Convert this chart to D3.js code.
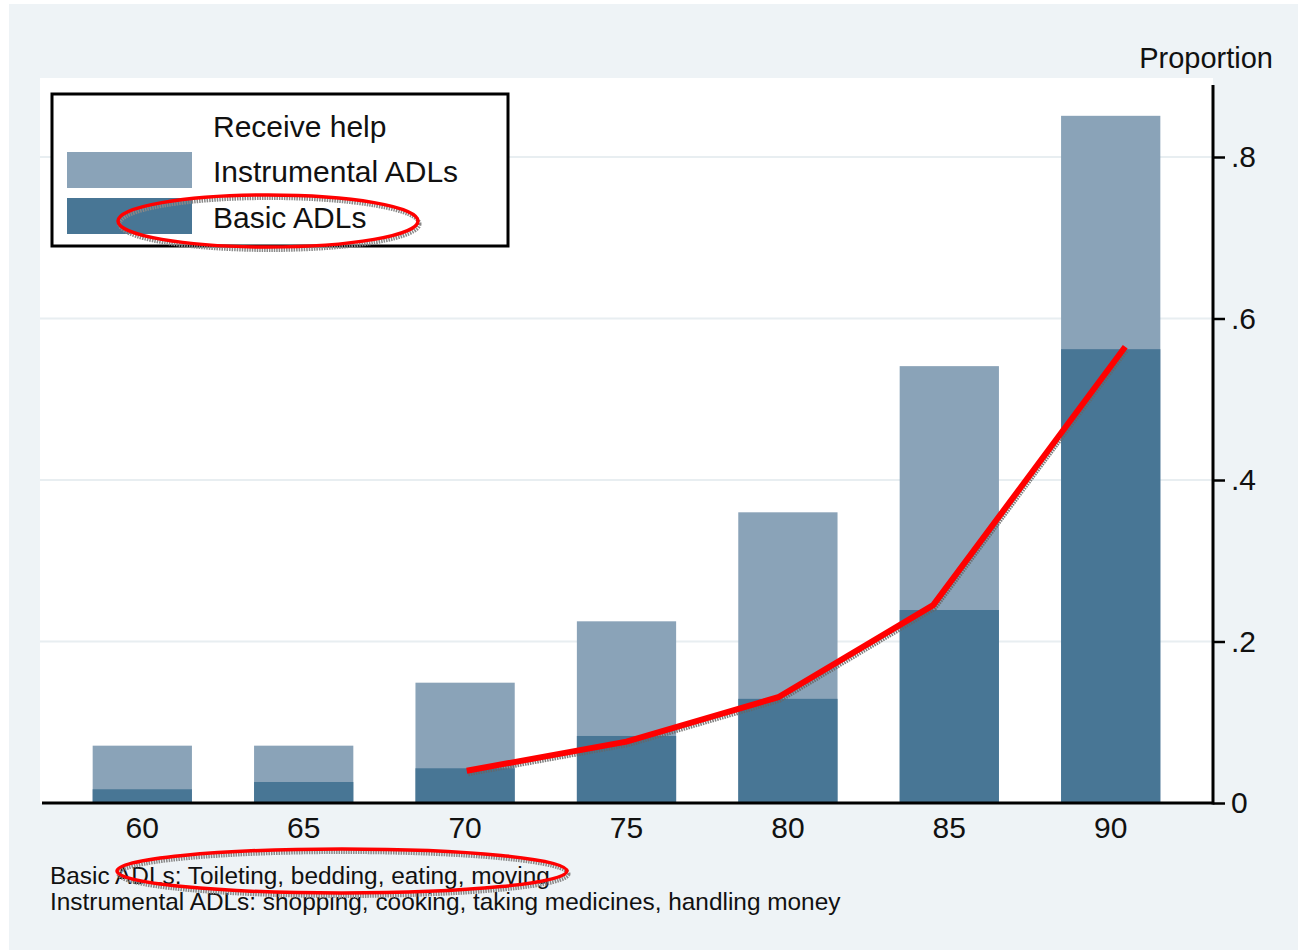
<!DOCTYPE html>
<html>
<head>
<meta charset="utf-8">
<script src="https://cdn.jsdelivr.net/npm/d3@7"></script>
<style>
  html, body { margin: 0; padding: 0; background: #ffffff; }
  svg { display: block; font-family: "Liberation Sans", Arial, Helvetica, sans-serif; }
</style>
</head>
<body>
<svg id="chart" width="1298" height="950"></svg>
<script>
// ---- data ----
const ages = [60, 65, 70, 75, 80, 85, 90];
const instrumentalADLs = [0.071, 0.071, 0.149, 0.225, 0.360, 0.541, 0.851]; // receive help with any ADL (total bar height)
const basicADLs = [0.017, 0.026, 0.043, 0.083, 0.129, 0.239, 0.562];
const trendAges = [70.05, 75.0, 79.7, 84.5, 90.45];
const trendValues = [0.040, 0.076, 0.131, 0.245, 0.565];
const yTicks = [0, 0.2, 0.4, 0.6, 0.8];
const yTickLabels = ["0", ".2", ".4", ".6", ".8"];
const legendTitle = "Receive help";
const legendLabels = ["Instrumental ADLs", "Basic ADLs"];
const yAxisTitle = "Proportion";
const notes = [
  "Basic ADLs: Toileting, bedding, eating, moving",
  "Instrumental ADLs: shopping, cooking, taking medicines, handling money"
];

// ---- styles ----
const colInstr = "#8aa3b8";
const colBasic = "#487695";
const bgOuter = "#eef3f6";

const svg = d3.select("#chart");
const W = 1298, H = 950;

// outer background
svg.append("rect").attr("x", 9).attr("y", 4).attr("width", W - 9).attr("height", H - 4).attr("fill", bgOuter);

const plot = { left: 40, top: 78, right: 1213, bottom: 803 };
// plot region
svg.append("rect").attr("x", plot.left).attr("y", plot.top)
  .attr("width", plot.right - plot.left).attr("height", plot.bottom - plot.top).attr("fill", "#ffffff");

const y = d3.scaleLinear().domain([0, 0.8]).range([plot.bottom, 157]);
const x = d3.scaleBand().domain(ages).range([62, 1191]).paddingInner(0.385).paddingOuter(0.19);
const xLin = d3.scaleLinear().domain([60, 90]).range([x(60) + x.bandwidth() / 2, x(90) + x.bandwidth() / 2]);

// gridlines
svg.append("g").selectAll("line").data(yTicks.filter(d => d > 0)).join("line")
  .attr("x1", plot.left).attr("x2", plot.right)
  .attr("y1", d => y(d)).attr("y2", d => y(d))
  .attr("stroke", "#e8eef1").attr("stroke-width", 2);

// bars
const bars = svg.append("g");
bars.selectAll("rect.instr").data(ages).join("rect").attr("class", "instr")
  .attr("x", d => x(d)).attr("width", x.bandwidth())
  .attr("y", (d, i) => y(instrumentalADLs[i])).attr("height", (d, i) => y(0) - y(instrumentalADLs[i]))
  .attr("fill", colInstr);
bars.selectAll("rect.basic").data(ages).join("rect").attr("class", "basic")
  .attr("x", d => x(d)).attr("width", x.bandwidth())
  .attr("y", (d, i) => y(basicADLs[i])).attr("height", (d, i) => y(0) - y(basicADLs[i]))
  .attr("fill", colBasic);

// right y-axis
const yAxis = d3.axisRight(y).tickValues(yTicks).tickFormat((d, i) => yTickLabels[i]).tickSize(12).tickPadding(6);
const gy = svg.append("g").attr("transform", `translate(${plot.right},0)`).call(yAxis);
gy.select(".domain").remove();
gy.selectAll(".tick line").attr("stroke", "#000").attr("stroke-width", 2.5);
gy.selectAll(".tick text").attr("font-size", 30).attr("fill", "#111").attr("font-family", "Liberation Sans, Arial, sans-serif");
svg.append("line").attr("x1", plot.right).attr("x2", plot.right).attr("y1", 85).attr("y2", plot.bottom + 1.5)
  .attr("stroke", "#000").attr("stroke-width", 3);

// x axis
const xAxis = d3.axisBottom(x).tickSize(0).tickPadding(14);
const gx = svg.append("g").attr("transform", `translate(0,${plot.bottom})`).call(xAxis);
gx.select(".domain").remove();
gx.selectAll(".tick text").attr("font-size", 30).attr("fill", "#111").attr("font-family", "Liberation Sans, Arial, sans-serif");
svg.append("line").attr("x1", 42).attr("x2", plot.right).attr("y1", plot.bottom).attr("y2", plot.bottom)
  .attr("stroke", "#000").attr("stroke-width", 3);

// y axis title
svg.append("text").attr("x", 1273).attr("y", 68).attr("text-anchor", "end")
  .attr("font-size", 29).attr("fill", "#111").text(yAxisTitle);

// legend
const lg = { x: 52, y: 94, w: 456, h: 152 };
svg.append("rect").attr("x", lg.x).attr("y", lg.y).attr("width", lg.w).attr("height", lg.h)
  .attr("fill", "#fff").attr("stroke", "#000").attr("stroke-width", 3);
svg.append("text").attr("x", lg.x + 161).attr("y", lg.y + 43).attr("font-size", 30).attr("fill", "#111").text(legendTitle);
const legendColors = [colInstr, colBasic];
legendLabels.forEach((lab, i) => {
  const ry = lg.y + 58 + i * 46;
  svg.append("rect").attr("x", lg.x + 15).attr("y", ry).attr("width", 125).attr("height", 36).attr("fill", legendColors[i]);
  svg.append("text").attr("x", lg.x + 161).attr("y", ry + 30).attr("font-size", 30).attr("fill", "#111").text(lab);
});

// notes
notes.forEach((t, i) => {
  svg.append("text").attr("x", 50).attr("y", 884 + i * 26).attr("font-size", 24.4).attr("fill", "#111").text(t);
});

// red trend line (annotation) with grey shadow
const trend = trendAges.map((a, i) => [xLin(a), y(trendValues[i])]);
const line = d3.line();
svg.append("path").attr("d", line(trend)).attr("transform", "translate(1.5,3)")
  .attr("fill", "none").attr("stroke", "#666").attr("stroke-width", 5).attr("stroke-dasharray", "1.5 1").attr("opacity", 0.85);
svg.append("path").attr("d", line(trend)).attr("fill", "none").attr("stroke", "#ff0000").attr("stroke-width", 6)
  .attr("stroke-linejoin", "miter");

// red ellipses (annotations)
function ellipse(cx, cy, rx, ry) {
  svg.append("ellipse").attr("cx", cx + 1.5).attr("cy", cy + 3).attr("rx", rx).attr("ry", ry)
    .attr("fill", "none").attr("stroke", "#888").attr("stroke-width", 4).attr("stroke-dasharray", "1.5 1");
  svg.append("ellipse").attr("cx", cx).attr("cy", cy).attr("rx", rx).attr("ry", ry)
    .attr("fill", "none").attr("stroke", "#ff0000").attr("stroke-width", 3.5);
}
ellipse(lg.x + 216, lg.y + 127, 150, 26);
ellipse(342, 871, 225, 22);
</script>
</body>
</html>
